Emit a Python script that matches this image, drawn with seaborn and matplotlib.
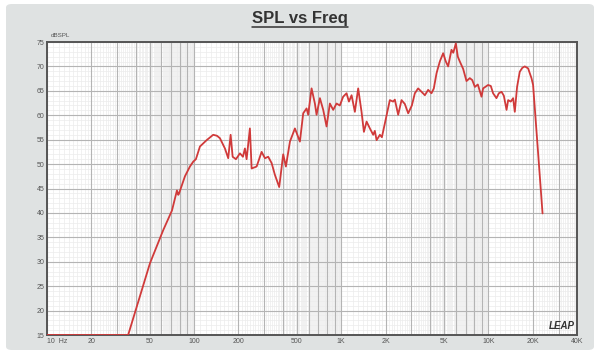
import numpy as np
import pandas as pd
import seaborn as sns
import matplotlib
matplotlib.use("Agg")
import matplotlib.pyplot as plt
from matplotlib.patches import FancyBboxPatch
from matplotlib.lines import Line2D
from matplotlib.ticker import FixedLocator, NullFormatter

# Measured response: frequency (Hz) and sound pressure level (dB SPL)
freq_hz = [10, 35.6, 50.1, 61.7, 70.7, 76.4, 78.0, 78.8, 86.6, 93.6, 98.6, 102.8,
           109.5, 121.6, 134.8, 142.9, 149.7, 161.9, 170.5, 177.0, 182.7, 192.3,
           204.8, 214.6, 221.4, 227.3, 239.3, 245.9, 265.9, 287.5, 302.9, 318.7,
           336.3, 353.9, 378.6, 403.0, 420.4, 447.7, 484.1, 523.4, 551.2, 581.0,
           595.8, 628.3, 661.7, 679.3, 715.7, 753.8, 794.3, 836.7, 881.2, 928.5,
           977.4, 1030, 1086, 1127, 1175, 1237, 1303, 1373, 1425, 1486, 1565,
           1648, 1691, 1738, 1830, 1888, 1977, 2138, 2252, 2312, 2436, 2568,
           2704, 2849, 3018, 3162, 3329, 3512, 3700, 3894, 4103, 4256, 4440,
           4674, 4924, 5136, 5324, 5610, 5771, 6006, 6194, 6393, 6734, 7096,
           7474, 7766, 8091, 8472, 8975, 9204, 9953, 10380, 10760, 11340, 11770,
           12280, 12730, 13280, 13620, 14190, 14720, 15110, 15660, 16330, 16990,
           17670, 18610, 19620, 20120, 23330]
spl_db = [15.0, 15.0, 29.7, 36.5, 40.5, 44.6, 43.7, 43.9, 47.5, 49.5, 50.5, 51.0,
          53.6, 54.9, 56.0, 55.8, 55.3, 53.2, 51.2, 56.0, 51.5, 51.0,
          52.2, 51.5, 53.2, 51.0, 57.3, 49.1, 49.5, 52.5, 51.2, 51.5,
          50.2, 47.8, 45.3, 52.0, 49.5, 54.6, 57.3, 54.6, 60.4, 61.4,
          60.1, 65.5, 62.4, 60.1, 63.5, 61.1, 57.7, 62.4, 61.1, 62.4,
          62.0, 63.8, 64.5, 62.8, 64.1, 60.7, 65.5, 60.7, 56.6, 58.7, 57.3,
          56.0, 56.8, 54.9, 56.0, 55.5, 58.3, 63.1, 62.8, 63.2, 60.1, 63.1,
          62.3, 60.4, 62.0, 64.5, 65.5, 64.8, 64.1, 65.2, 64.5, 65.5, 68.6,
          71.0, 72.7, 71.0, 70.0, 73.4, 72.8, 74.7, 72.0, 71.0, 69.5, 67.0,
          67.6, 67.2, 65.8, 66.3, 63.8, 65.5, 66.2, 66.0, 64.5, 63.5, 64.5,
          64.8, 64.0, 61.1, 63.1, 62.8, 63.5, 60.7, 65.8, 68.9, 69.7,
          70.0, 69.6, 67.6, 66.2, 39.9]

x_ticks = [10, 20, 50, 100, 200, 500, 1000, 2000, 5000, 10000, 20000, 40000]
x_tick_labels = ["10  Hz", "20", "50", "100", "200", "500", "1K", "2K", "5K",
                 "10K", "20K", "40K"]
y_ticks = list(range(15, 80, 5))

df = pd.DataFrame({"Frequency": freq_hz, "SPL": spl_db})

sns.set_style("white")
plt.rcParams["font.family"] = ["Liberation Sans", "DejaVu Sans"]

W, H = 600, 354
fig = plt.figure(figsize=(W / 100, H / 100), dpi=100, facecolor="white")

# grey panel behind the chart
panel = FancyBboxPatch((6 / W, 4 / H), (W - 12) / W, (H - 8) / H,
                       boxstyle="round,pad=0,rounding_size=0.01",
                       transform=fig.transFigure, facecolor="#dfe2e2",
                       edgecolor="none", zorder=-5)
fig.patches.append(panel)

ax = fig.add_axes([47 / W, 1 - 335 / H, (577 - 47) / W, (335 - 42) / H])
ax.set_zorder(1)
ax.set_facecolor("white")

sns.lineplot(data=df, x="Frequency", y="SPL", ax=ax, color="#d03a3a",
             linewidth=1.3, zorder=5)

ax.set_xscale("log")
ax.set_xlim(10, 40000)
ax.set_ylim(15, 75)

# grid: integer multiples of each decade, finer tenths in between
major_x = [m * 10 ** d for d in range(1, 5) for m in range(1, 10)
           if m * 10 ** d <= 40000]
minor_x = [m / 10 * 10 ** d for d in range(1, 5) for m in range(11, 100)
           if m % 10 != 0 and m / 10 * 10 ** d <= 40000]
for xv in minor_x:
    ax.axvline(xv, color="#ececec", linewidth=0.5, zorder=1)
for yv in range(15, 76):
    if yv % 5:
        ax.axhline(yv, color="#ececec", linewidth=0.5, zorder=1)
for xv in major_x:
    ax.axvline(xv, color="#b4b4b4", linewidth=0.8, zorder=2)
for yv in y_ticks:
    ax.axhline(yv, color="#b4b4b4", linewidth=0.8, zorder=2)

ax.xaxis.set_major_locator(FixedLocator(x_ticks))
ax.xaxis.set_minor_locator(FixedLocator([]))
ax.xaxis.set_minor_formatter(NullFormatter())
ax.set_xticklabels(x_tick_labels)
ax.get_xticklabels()[0].set_horizontalalignment("left")
ax.set_yticks(y_ticks)
ax.set_yticklabels([str(v) for v in y_ticks])
ax.tick_params(axis="both", length=0, labelsize=5, colors="#555555", pad=2)
ax.set_xlabel("")
ax.set_ylabel("")

for s in ax.spines.values():
    s.set_visible(True)
    s.set_color("#555555")
    s.set_linewidth(1.4)

ax.text(0.008, 1.012, "dBSPL", transform=ax.transAxes, fontsize=4.5,
        color="#555555", ha="left", va="bottom")
ax.text(0.995, 0.015, "LEAP", transform=ax.transAxes, fontsize=7,
        fontweight="bold", fontstyle="italic", color="#333333",
        ha="right", va="bottom", zorder=6)

title = fig.text(0.5, 1 - 18 / H, "SPL vs Freq", ha="center", va="center",
                 fontsize=12, fontweight="bold", color="#333333")
fig.canvas.draw()
bb = title.get_window_extent().transformed(fig.transFigure.inverted())
fig.add_artist(Line2D([bb.x0, bb.x1], [bb.y0 - 0.004, bb.y0 - 0.004],
                      transform=fig.transFigure, color="#333333",
                      linewidth=1.1))

fig.savefig("out.png", dpi=100, facecolor=fig.get_facecolor())
